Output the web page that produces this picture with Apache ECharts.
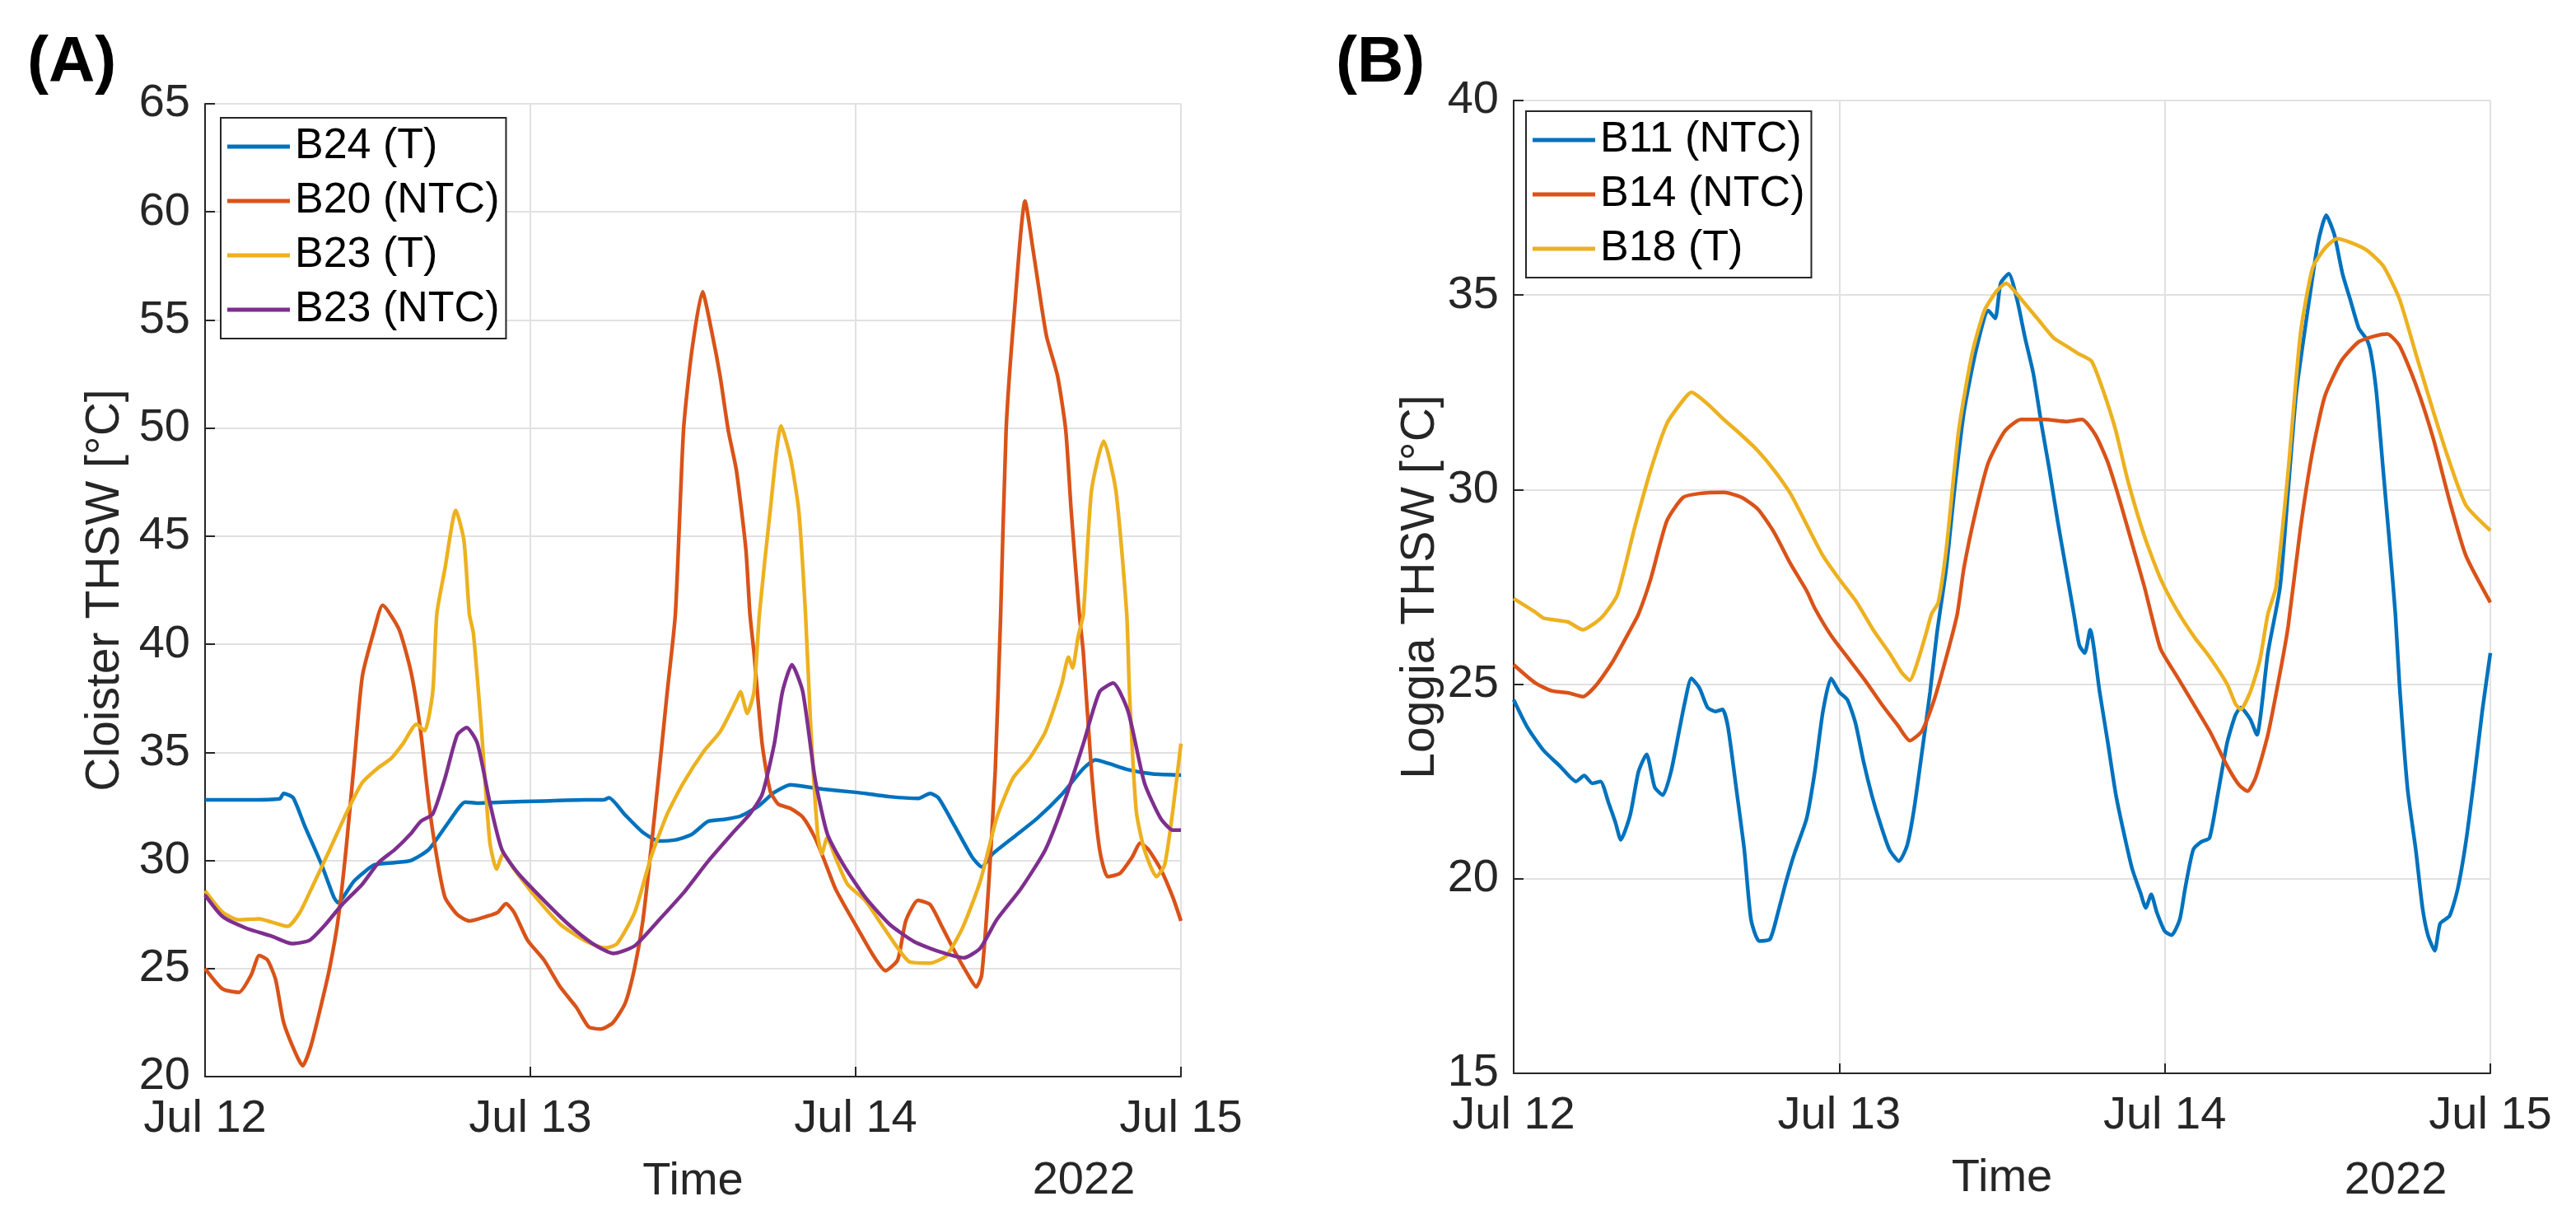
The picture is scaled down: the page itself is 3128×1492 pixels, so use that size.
<!DOCTYPE html>
<html>
<head>
<meta charset="utf-8">
<script src="https://cdn.jsdelivr.net/npm/echarts@6/dist/echarts.min.js"></script>
<style>
html,body{margin:0;padding:0;background:#fff;}
#chart{width:3128px;height:1492px;}
</style>
</head>
<body>
<div id="chart"></div>
<script>
// x values are hours since Jul 12 2022 00:00
const xTickLabels = ['Jul 12', 'Jul 13', 'Jul 14', 'Jul 15'];
const yearLabel = '2022';

// Panel A: Cloister
const B24_T = [[0,32.8],[3,32.8],[5.5,32.85],[5.8,33.1],[6.5,32.9],[7.35,31.6],[8.6,29.8],[9.5,28.3],[9.8,28.05],[11,29.05],[12.5,29.8],[14,29.9],[15.2,30.0],[16.5,30.5],[18,31.8],[19.2,32.7],[20.1,32.65],[22,32.7],[25,32.75],[28,32.8],[29.4,32.8],[29.8,32.9],[31,32.1],[32.3,31.3],[33.5,30.9],[34.7,30.95],[35.9,31.2],[37.1,31.8],[38.3,31.9],[39.5,32.05],[40.8,32.5],[42,33.15],[43.2,33.5],[44.4,33.4],[45.6,33.3],[48,33.15],[50.5,32.95],[52.6,32.87],[53.5,33.1],[54.1,32.9],[55.3,31.6],[56.6,30.15],[57.3,29.7],[58.1,30.3],[59.6,31.05],[61.4,31.95],[63.2,33.05],[64.8,34.25],[65.7,34.65],[66.6,34.5],[68.1,34.2],[69.9,34.0],[72,33.95]];
const B20_NTC = [[0,25.0],[1.3,24.05],[2.5,23.9],[3.4,24.7],[4,25.6],[4.6,25.4],[5.2,24.5],[5.8,22.5],[6.7,21.05],[7.2,20.5],[7.8,21.4],[8.6,23.4],[9.2,25.05],[9.8,27.2],[10.4,30.5],[11,34.5],[11.6,38.5],[12.5,40.7],[13.1,41.8],[14.3,40.7],[15.2,38.7],[15.9,36.0],[16.5,32.7],[17.1,30.15],[17.7,28.3],[18.6,27.5],[19.5,27.2],[20.7,27.4],[21.6,27.6],[22.2,28.0],[22.8,27.6],[23.8,26.3],[25,25.4],[26.2,24.15],[27.4,23.2],[28.3,22.3],[29.2,22.2],[30.1,22.5],[31,23.4],[31.7,25.05],[32.3,27.2],[32.9,30.5],[33.5,34.1],[34.1,37.8],[34.7,41.4],[35.3,49.9],[35.9,53.5],[36.7,56.3],[37.4,54.4],[38,52.4],[38.6,49.9],[39.2,48.05],[39.9,44.4],[40.2,41.4],[40.5,39.6],[41.1,35.4],[41.7,33.2],[42.3,32.6],[43.2,32.4],[44.1,32.0],[45,31.05],[45.6,30.15],[46.5,28.7],[47.1,28.0],[48.1,26.9],[49.3,25.6],[50.2,24.9],[51.1,25.4],[51.7,27.2],[52.6,28.15],[53.5,27.95],[54.4,26.9],[55.3,25.8],[56.3,24.7],[56.9,24.15],[57.3,24.7],[57.8,28.7],[58.3,34.15],[58.7,41.4],[59.1,49.9],[59.7,55.3],[60.5,60.5],[61.1,58.2],[61.7,55.7],[62.1,54.2],[62.9,52.4],[63.5,49.9],[63.9,46.2],[64.5,41.4],[64.8,39.6],[65.4,34.15],[66,30.5],[66.6,29.25],[67.5,29.4],[68.4,30.15],[69,30.8],[69.6,30.5],[70.5,29.6],[71.4,28.3],[72,27.2]];
const B23_T = [[0,28.6],[1.3,27.6],[2.5,27.25],[4,27.3],[4.9,27.15],[6.1,26.95],[7,27.6],[8,28.9],[9.2,30.5],[10.4,32.15],[11.6,33.6],[12.8,34.3],[13.7,34.7],[14.6,35.4],[15.6,36.3],[16.2,36.0],[16.8,37.8],[17.1,41.4],[17.7,43.5],[18.5,46.2],[19.1,44.8],[19.5,41.4],[19.8,40.5],[20.4,36.0],[21,30.9],[21.5,29.6],[22,30.3],[22.8,29.6],[24.4,28.3],[26.2,27.05],[28,26.3],[29.5,25.95],[30.4,26.15],[31.7,27.6],[32.9,30.15],[34.1,32.15],[35.3,33.6],[36.8,35.05],[38,35.95],[39.2,37.4],[39.5,37.8],[40,36.8],[40.5,37.8],[40.9,41.4],[41.7,46.2],[42.5,50.1],[43.2,48.6],[43.8,46.2],[44.3,41.4],[44.7,36.0],[45.2,31.2],[45.5,30.3],[45.9,31.05],[46.5,30.15],[47.4,28.9],[48.7,28.15],[49.9,27.05],[51.1,25.95],[52,25.3],[53.5,25.25],[54.7,25.6],[55.9,26.9],[57.2,29.05],[58.4,31.95],[59.6,33.8],[60.8,34.7],[62,35.95],[63.2,38.15],[63.7,39.4],[64,38.9],[64.4,40.3],[64.8,41.4],[65.4,47.1],[66.3,49.4],[67.2,47.1],[68,41.4],[68.2,37.8],[68.7,32.3],[69.3,30.5],[70.2,29.25],[70.8,29.8],[71.4,32.3],[72,35.4]];
const B23_NTC = [[0,28.4],[1.3,27.4],[3.1,26.85],[4.9,26.5],[6.4,26.15],[7.7,26.3],[8.9,27.05],[10.1,27.95],[11.6,28.9],[12.8,29.9],[14,30.5],[15.2,31.25],[15.9,31.8],[16.8,32.15],[17.7,33.8],[18.6,35.8],[19.3,36.15],[20.1,35.4],[21,32.7],[21.9,30.5],[23.1,29.4],[25,28.15],[26.8,27.05],[28.6,26.15],[30.1,25.7],[31.7,26.05],[33.5,27.25],[35.3,28.5],[37.1,29.95],[38.9,31.25],[40.2,32.15],[41.1,33.05],[42,35.4],[42.6,37.8],[43.3,39.05],[44.1,37.8],[45,33.8],[45.9,31.25],[47.1,29.8],[48.7,28.3],[50.5,27.05],[52.3,26.25],[54.1,25.8],[56,25.5],[57.2,25.95],[58.4,27.25],[60.2,28.7],[62,30.5],[63.5,32.9],[64.8,35.4],[66,37.8],[67,38.2],[68.1,36.9],[69.3,33.6],[70.5,31.95],[71.4,31.4],[72,31.4]];

// Panel B: Loggia
const B11_NTC = [[0,24.6],[1,23.9],[2.2,23.3],[3.4,22.9],[4.6,22.5],[5.2,22.65],[5.8,22.45],[6.4,22.5],[7,21.95],[7.5,21.45],[7.9,21.0],[8.6,21.65],[9.2,22.75],[9.8,23.2],[10.4,22.35],[11,22.15],[11.6,22.75],[12.2,23.8],[12.6,24.5],[13.1,25.15],[13.7,24.9],[14.3,24.4],[14.9,24.3],[15.4,24.35],[15.8,23.9],[16.4,22.35],[17,20.75],[17.5,18.95],[18.1,18.4],[18.9,18.45],[19.5,19.15],[20.1,19.95],[20.7,20.65],[21.6,21.55],[22.2,22.75],[22.8,24.3],[23.4,25.15],[24,24.8],[24.6,24.6],[25.2,24.0],[25.8,23.0],[26.4,22.15],[27,21.45],[27.7,20.75],[28.4,20.45],[29,20.85],[29.5,21.75],[30.1,23.25],[30.7,24.8],[31.2,26.3],[31.9,28.0],[32.5,30.0],[33.2,32.0],[34.1,33.6],[35,34.6],[35.5,34.4],[35.9,35.3],[36.5,35.55],[37.1,34.9],[37.7,33.9],[38.3,33.0],[38.9,31.7],[39.5,30.5],[40.1,29.2],[40.7,28.0],[41.3,26.8],[41.7,26.0],[42.1,25.8],[42.5,26.4],[43.2,24.8],[43.8,23.5],[44.4,22.15],[45,21.15],[45.6,20.25],[46.2,19.65],[46.6,19.25],[47,19.6],[47.4,19.15],[48,18.65],[48.5,18.55],[49.1,18.95],[49.5,19.75],[50.1,20.75],[50.7,20.95],[51.3,21.05],[51.9,22.15],[52.6,23.5],[53.2,24.2],[53.6,24.4],[54.3,24.1],[54.8,23.7],[55.1,24.3],[55.6,25.8],[56.5,27.5],[57.1,30.0],[57.7,32.5],[58.7,35.0],[59.3,36.35],[59.9,37.05],[60.5,36.55],[61.1,35.55],[61.7,34.85],[62.3,34.15],[62.9,33.85],[63.2,33.5],[63.6,32.5],[64.1,30.5],[64.6,28.5],[65,26.8],[65.3,25.0],[65.9,22.3],[66.5,20.75],[67,19.25],[67.4,18.55],[67.9,18.15],[68.3,18.85],[69,19.05],[69.6,19.75],[70.2,20.95],[70.8,22.55],[71.4,24.3],[72,25.8]];
const B14_NTC = [[0,25.5],[1.6,25.03],[2.8,24.83],[4,24.78],[5.1,24.68],[6.1,24.98],[7.3,25.58],[8.6,26.4],[9.2,26.8],[10.1,27.7],[11.3,29.2],[12.5,29.8],[13.7,29.9],[15.5,29.93],[16.8,29.8],[18,29.5],[19.2,28.9],[20.4,28.1],[21.6,27.4],[22.2,26.95],[23.4,26.25],[24.7,25.65],[25.9,25.1],[27.1,24.5],[28.3,23.95],[29.2,23.55],[30.1,23.8],[31,24.6],[31.9,25.7],[32.7,26.8],[33.2,28.0],[34.1,29.5],[35,30.7],[36.2,31.5],[37.4,31.8],[39.2,31.8],[40.7,31.75],[41.9,31.8],[42.9,31.4],[43.8,30.7],[44.7,29.7],[45.6,28.6],[46.5,27.5],[47,26.8],[47.7,25.9],[48.9,25.2],[50.1,24.5],[51.3,23.8],[52.6,22.9],[53.5,22.4],[54.1,22.25],[54.7,22.6],[55.6,23.7],[56.5,25.3],[57.1,26.5],[58,29.0],[58.9,31.0],[59.8,32.4],[61,33.3],[62.3,33.8],[63.5,33.95],[64.4,34.0],[65.3,33.7],[66.5,32.7],[67.8,31.3],[69,29.7],[70.2,28.3],[72,27.1]];
const B18_T = [[0,27.2],[1.6,26.85],[2.2,26.7],[4,26.6],[5.1,26.4],[6.1,26.6],[6.7,26.8],[7.65,27.3],[8.9,29.0],[10.1,30.5],[11.3,31.7],[12.5,32.3],[13.1,32.5],[14.3,32.2],[15.5,31.8],[16.8,31.4],[18,31.0],[19.2,30.5],[20.4,29.9],[21.6,29.1],[22.8,28.3],[24,27.7],[25.3,27.1],[26.5,26.4],[27.7,25.8],[28.6,25.3],[29.2,25.1],[29.8,25.6],[30.4,26.3],[30.8,26.8],[31.3,27.1],[31.9,28.5],[32.8,31.5],[33.8,33.5],[34.7,34.6],[35.6,35.1],[36.3,35.3],[37.4,34.9],[38.6,34.4],[39.8,33.9],[40.7,33.7],[41.6,33.5],[42.6,33.3],[43.5,32.5],[44.4,31.5],[45.3,30.2],[46.5,28.8],[47.7,27.7],[48.9,26.9],[50.2,26.2],[51.3,25.7],[52.6,25.0],[53.2,24.5],[53.6,24.35],[54.3,24.8],[55,25.6],[55.6,26.8],[56.2,27.5],[57.1,30.5],[58,34.0],[58.9,35.7],[59.8,36.2],[60.7,36.45],[61.7,36.35],[62.9,36.15],[64.1,35.75],[65.3,34.9],[66.5,33.5],[67.8,32.0],[69,30.7],[70.2,29.6],[72,28.95]];

const C_BLUE = '#0072BD', C_RED = '#D95319', C_YEL = '#EDB120', C_PUR = '#7E2F8E';
const FONT = 'Liberation Sans, Arial, Helvetica, sans-serif';
const AX = '#262626';

function xAxisCfg(gi) {
  return {
    gridIndex: gi, type: 'value', min: 0, max: 72, interval: 24,
    axisLine: { show: true, onZero: false, lineStyle: { color: AX, width: 2 } },
    axisTick: { show: true, inside: true, length: 12, lineStyle: { color: AX, width: 2 } },
    axisLabel: { fontSize: 56, color: AX, fontFamily: FONT, margin: 24,
      formatter: v => xTickLabels[Math.round(v / 24)] },
    splitLine: { show: true, lineStyle: { color: '#e1e1e1', width: 2 } },
    name: 'Time', nameLocation: 'middle', nameGap: 100,
    nameTextStyle: { fontSize: 56, color: AX, fontFamily: FONT }
  };
}
function yAxisCfg(gi, min, max, name, gap) {
  return {
    gridIndex: gi, type: 'value', min: min, max: max, interval: 5,
    axisLine: { show: true, onZero: false, lineStyle: { color: AX, width: 2 } },
    axisTick: { show: true, inside: true, length: 12, lineStyle: { color: AX, width: 2 } },
    axisLabel: { fontSize: 56, color: AX, fontFamily: FONT, margin: 18 },
    splitLine: { show: true, lineStyle: { color: '#e1e1e1', width: 2 } },
    name: name, nameLocation: 'middle', nameRotate: 90, nameGap: gap,
    nameTextStyle: { fontSize: 57, color: AX, fontFamily: FONT }
  };
}
function lineSeries(name, data, color, xi) {
  return {
    name: name, type: 'line', data: data, xAxisIndex: xi, yAxisIndex: xi,
    showSymbol: false, symbol: 'none', smooth: 0.2, clip: true,
    lineStyle: { color: color, width: 4.5 }, itemStyle: { color: color },
    emphasis: { disabled: true }
  };
}
function legendCfg(names, left, top) {
  return {
    data: names, left: left, top: top, orient: 'vertical',
    backgroundColor: '#fff', borderColor: AX, borderWidth: 2, borderRadius: 0,
    padding: [9, 8, 9, 8], itemGap: 14, itemWidth: 76, itemHeight: 5, icon: 'rect',
    textStyle: { fontSize: 52, color: '#000', fontFamily: FONT, padding: [0, 0, 0, 1] },
    selectedMode: false
  };
}

const chart = echarts.init(document.getElementById('chart'), null, { renderer: 'canvas' });
chart.setOption({
  animation: false,
  backgroundColor: '#fff',
  grid: [
    { left: 249, top: 126, width: 1185, height: 1181 },
    { left: 1838, top: 122, width: 1186, height: 1181 }
  ],
  xAxis: [xAxisCfg(0), xAxisCfg(1)],
  yAxis: [yAxisCfg(0, 20, 65, 'Cloister THSW [°C]', 92), yAxisCfg(1, 15, 40, 'Loggia THSW [°C]', 84)],
  legend: [
    legendCfg(['B24 (T)', 'B20 (NTC)', 'B23 (T)', 'B23 (NTC)'], 268, 143),
    legendCfg(['B11 (NTC)', 'B14 (NTC)', 'B18 (T)'], 1853, 135)
  ],
  series: [
    lineSeries('B24 (T)', B24_T, C_BLUE, 0),
    lineSeries('B20 (NTC)', B20_NTC, C_RED, 0),
    lineSeries('B23 (T)', B23_T, C_YEL, 0),
    lineSeries('B23 (NTC)', B23_NTC, C_PUR, 0),
    lineSeries('B11 (NTC)', B11_NTC, C_BLUE, 1),
    lineSeries('B14 (NTC)', B14_NTC, C_RED, 1),
    lineSeries('B18 (T)', B18_T, C_YEL, 1)
  ],
  graphic: [
    { type: 'text', left: 33, top: 38, style: { text: '(A)', fontSize: 78, fontWeight: 'bold', fontFamily: FONT, fill: '#000' } },
    { type: 'text', left: 1622, top: 38, style: { text: '(B)', fontSize: 78, fontWeight: 'bold', fontFamily: FONT, fill: '#000' } },
    { type: 'text', x: 1316, y: 1406, style: { text: yearLabel, fontSize: 56, fontFamily: FONT, fill: AX, align: 'center', verticalAlign: 'top' } },
    { type: 'text', x: 2909, y: 1406, style: { text: yearLabel, fontSize: 56, fontFamily: FONT, fill: AX, align: 'center', verticalAlign: 'top' } }
  ]
});
</script>
</body>
</html>
